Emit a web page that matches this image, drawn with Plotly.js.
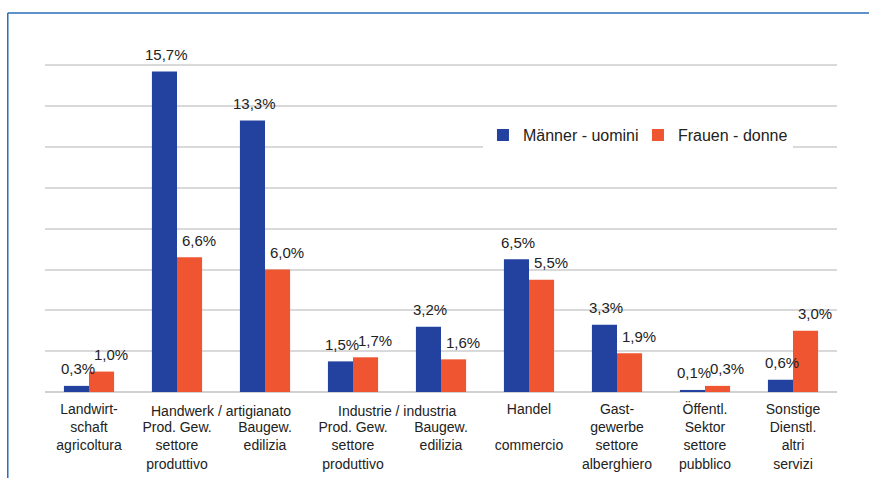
<!DOCTYPE html>
<html>
<head>
<meta charset="utf-8">
<script src="https://cdn.plot.ly/plotly-3.0.1.min.js"></script>
<style>html,body{margin:0;padding:0;background:#fff;}#chart{width:869px;height:478px;}</style>
</head>
<body>
<div id="chart"></div>
<script>
const categories = ["Landwirtschaft", "Handwerk Prod", "Handwerk Bau", "Industrie Prod", "Industrie Bau", "Handel", "Gastgewerbe", "Oeffentl", "Sonstige"];
const tickLabels = [
  "Landwirt-<br>schaft<br>agricoltura",
  " <br>Prod. Gew.<br>settore<br>produttivo",
  " <br>Baugew.<br>edilizia",
  " <br>Prod. Gew.<br>settore<br>produttivo",
  " <br>Baugew.<br>edilizia",
  "Handel<br> <br>commercio",
  "Gast-<br>gewerbe<br>settore<br>alberghiero",
  "Öffentl.<br>Sektor<br>settore<br>pubblico",
  "Sonstige<br>Dienstl.<br>altri<br>servizi"
];
const groupLabels = ["Handwerk / artigianato", "Industrie / industria"];
const groupSpans = [[1, 2], [3, 4]];
const men = [0.3, 15.7, 13.3, 1.5, 3.2, 6.5, 3.3, 0.1, 0.6];
const women = [1.0, 6.6, 6.0, 1.7, 1.6, 5.5, 1.9, 0.3, 3.0];
const seriesNames = ["Männer - uomini", "Frauen - donne"];
const seriesColors = ["#2342a0", "#f05532"];

const FONT = "Liberation Sans, Arial, sans-serif";
const fmt = v => v.toFixed(1).replace(".", ",") + "%";

const traces = [men, women].map((vals, i) => ({
  type: "bar", name: seriesNames[i], x: categories, y: vals,
  marker: {color: seriesColors[i]}, hoverinfo: "skip"
}));

// value labels (offset per series, as in the reference)
const labelShift = [{x: -11, y: 17}, {x: 22, y: 17}];
const valueLabels = [];
[men, women].forEach((vals, s) => {
  vals.forEach((v, i) => {
    valueLabels.push({
      text: fmt(v), xref: "x", yref: "y", x: categories[i], y: v,
      xanchor: "center", yanchor: "middle",
      xshift: labelShift[s].x, yshift: labelShift[s].y,
      showarrow: false, font: {family: FONT, size: 15, color: "#222"}
    });
  });
});

const groupAnnotations = groupLabels.map((t, i) => ({
  text: t, xref: "x", yref: "paper",
  x: (groupSpans[i][0] + groupSpans[i][1]) / 2, y: 0,
  yanchor: "middle", yshift: -19, showarrow: false,
  font: {family: FONT, size: 14, color: "#222"}
}));

const frameColor = "#2a6cb8";
const shapes = [
  {type: "line", xref: "paper", yref: "paper", x0: -0.047, x1: 1.1, y0: 1.03, y1: 1.03, line: {color: frameColor, width: 1.5}},
  {type: "line", xref: "paper", yref: "paper", x0: -0.047, x1: -0.047, y0: 1.03, y1: -0.25, line: {color: frameColor, width: 1.5}}
];

const layout = {
  width: 869, height: 478,
  margin: {l: 45, r: 32, t: 24, b: 86, autoexpand: false},
  paper_bgcolor: "#fff", plot_bgcolor: "#fff",
  barmode: "group", bargap: 0.43, bargroupgap: 0,
  font: {family: FONT, size: 14, color: "#222"},
  xaxis: {type: "category", tickvals: categories, ticktext: tickLabels, showgrid: false, ticks: "", showline: false,
          ticklabelstandoff: 7, tickfont: {size: 14, color: "#222"}, automargin: false},
  yaxis: {range: [0, 18.03], dtick: 2, showticklabels: false, showgrid: true, gridcolor: "#d9d9d9", gridwidth: 2,
          zeroline: true, zerolinecolor: "#d0d0d0", zerolinewidth: 2, showline: false, ticks: "", automargin: false},
  showlegend: true,
  legend: {orientation: "h", x: 0.553, xanchor: "left", y: 0.698, yanchor: "middle", bgcolor: "#fff",
           entrywidth: 110, entrywidthmode: "pixels",
           font: {size: 16, color: "#222"}, traceorder: "normal"},
  annotations: valueLabels.concat(groupAnnotations),
  shapes: shapes
};

Plotly.newPlot("chart", traces, layout, {displayModeBar: false, staticPlot: true});
</script>
</body>
</html>
